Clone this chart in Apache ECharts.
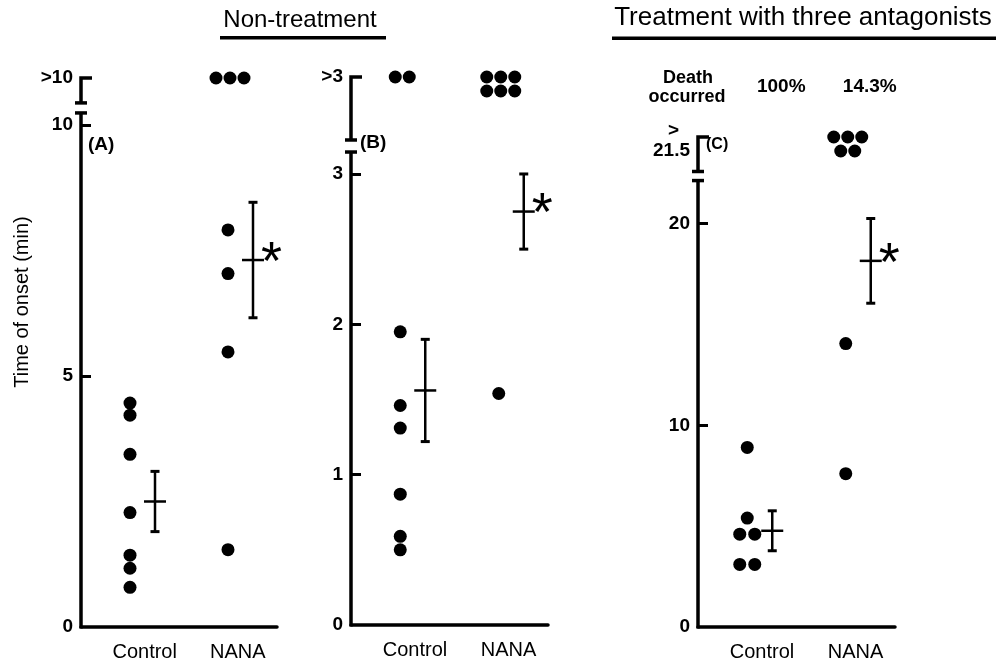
<!DOCTYPE html>
<html><head><meta charset="utf-8">
<script src="https://cdn.jsdelivr.net/npm/echarts@6/dist/echarts.min.js"></script>
<style>html,body{margin:0;padding:0;background:#fff}#c{width:999px;height:665px}</style>
</head><body><div id="c"></div>
<script>
// ---------------- data ----------------
const categories = ['Control', 'NANA'];
const yAxisTitle = 'Time of onset (min)';
const titleLeft = 'Non-treatment';
const titleRight = 'Treatment with three antagonists';
const deathLabel = ['Death', 'occurred'];
const deathRate = [100, 14.3];           // % death occurred (panel C)

// Panel A: Non-treatment, time of onset (min)
const aControl = [4.46, 4.22, 3.44, 2.28, 1.43, 1.17, 0.79];
const aNana = [7.91, 7.04, 5.48, 1.54];
const aOver = [0, 3];                    // animals with onset > 10 min
const aMean = [2.50, 7.31];
const aSem = [0.60, 1.15];
const aSig = ['', '*'];
const aTicks = [0, 5, 10];
const aTop = '>10';

// Panel B
const bControl = [1.95, 1.46, 1.31, 0.87, 0.59, 0.50];
const bNana = [1.54];
const bOver = [2, 6];                    // animals with onset > 3 min
const bMean = [1.56, 2.75];
const bSem = [0.34, 0.25];
const bSig = ['', '*'];
const bTicks = [0, 1, 2, 3];
const bTop = '>3';

// Panel C: Treatment with three antagonists
const cControl = [8.9, 5.4, 4.6, 4.6, 3.1, 3.1];
const cNana = [14.05, 7.6];
const cOver = [0, 5];                    // animals with onset > 21.5 min
const cMean = [4.77, 18.15];
const cSem = [0.99, 2.10];
const cSig = ['', '*'];
const cTicks = [0, 10, 20];
const cTop = '21.5';

// ---------------- layout ----------------
const FONT = 'Liberation Sans, Arial, sans-serif';
const panels = [
  {letter:'(A)', ctrl:aControl, nana:aNana, over:aOver, mean:aMean, sem:aSem, sig:aSig, ticks:aTicks, top:aTop,
   grid:{left:81, top:78, width:196, height:549}, max:10.936, brk:[10.24, 10.44]},
  {letter:'(B)', ctrl:bControl, nana:bNana, over:bOver, mean:bMean, sem:bSem, sig:bSig, ticks:bTicks, top:bTop,
   grid:{left:351, top:77, width:197, height:548}, max:3.645, brk:[3.146, 3.226]},
  {letter:'(C)', ctrl:cControl, nana:cNana, over:cOver, mean:cMean, sem:cSem, sig:cSig, ticks:cTicks, top:cTop, stackedTop:true,
   grid:{left:698, top:137, width:197, height:490}, max:24.29, brk:[22.13, 22.58]}
];

const grids = [], xAxes = [], yAxes = [], series = [];

function dotItems(values, catX) {
  const counts = {}, seen = {};
  values.forEach(v => counts[v] = (counts[v] || 0) + 1);
  return values.map(v => {
    const n = counts[v], k = seen[v] = (seen[v] === undefined ? 0 : seen[v] + 1);
    return {value:[catX, v], symbolOffset:[(k - (n - 1) / 2) * 15, 0]};
  });
}
function overItems(n, catX, yMax) {
  const out = [];
  for (let j = 0; j < n; j++) {
    const row = Math.floor(j / 3), col = j % 3, inRow = Math.min(3, n - row * 3);
    out.push({value:[catX, yMax], symbolOffset:[(col - (inRow - 1) / 2) * 14 + 2, row * 14]});
  }
  return out;
}

panels.forEach((p, i) => {
  grids.push(Object.assign({}, p.grid));
  xAxes.push({
    type:'value', gridIndex:i, min:0, max:2,
    splitLine:{show:false}, axisTick:{show:false},
    axisLine:{show:true, lineStyle:{color:'#000', width:3.5}},
    axisLabel:{customValues:[0.65, 1.6], formatter:v => v < 1 ? categories[0] : categories[1],
      color:'#000', fontSize:20, fontFamily:FONT, margin:15}
  });
  const labelVals = p.ticks.concat([p.max]);
  yAxes.push({
    type:'value', gridIndex:i, min:0, max:p.max,
    splitLine:{show:false}, axisLine:{show:false},
    axisTick:{show:true, inside:true, length:10, customValues:p.ticks.filter(v => v > 0),
      lineStyle:{color:'#000', width:3}},
    axisLabel:{customValues:labelVals, color:'#000', fontSize:19, fontWeight:'bold', fontFamily:FONT, margin:8,
      formatter:v => v === p.max ? (p.stackedTop ? '{g|>}\n{v|' + p.top + '}' : p.top) : String(v),
      rich:{g:{fontSize:19, fontWeight:'bold', fontFamily:FONT, lineHeight:28, padding:[0, 11, 0, 0], align:'right'},
            v:{fontSize:19, fontWeight:'bold', fontFamily:FONT, lineHeight:12, align:'right'}}}
  });
  // broken y-axis line
  series.push({
    type:'custom', xAxisIndex:i, yAxisIndex:i, clip:false, silent:true, data:[[0, 0]],
    renderItem:(params, api) => {
      const b = api.coord([0, 0]), lo = api.coord([0, p.brk[0]]), hi = api.coord([0, p.brk[1]]), t = api.coord([0, p.max]);
      const st = {stroke:'#000', lineWidth:3.5, fill:null};
      const x = b[0];
      return {type:'group', children:[
        {type:'line', shape:{x1:x, y1:b[1] + 1.5, x2:x, y2:lo[1]}, style:st},
        {type:'line', shape:{x1:x - 6, y1:lo[1], x2:x + 6, y2:lo[1]}, style:st},
        {type:'line', shape:{x1:x - 6, y1:hi[1], x2:x + 6, y2:hi[1]}, style:st},
        {type:'polyline', shape:{points:[[x, hi[1]], [x, t[1]], [x + 11, t[1]]]}, style:st}
      ]};
    }
  });
  // individual animals
  const dots = dotItems(p.ctrl, 0.5).concat(dotItems(p.nana, 1.5))
    .concat(overItems(p.over[0], 0.5, p.max)).concat(overItems(p.over[1], 1.5, p.max));
  series.push({
    type:'scatter', xAxisIndex:i, yAxisIndex:i, clip:false, symbol:'circle', symbolSize:13,
    itemStyle:{color:'#000', opacity:1}, data:dots, silent:true
  });
  // mean +- SEM
  series.push({
    type:'custom', xAxisIndex:i, yAxisIndex:i, clip:false, silent:true,
    data:p.mean.map((m, k) => [k + 0.5, m, p.sem[k]]),
    renderItem:(params, api) => {
      const x = api.value(0), m = api.value(1), s = api.value(2);
      const c = api.coord([x, m]), t = api.coord([x, m + s]), bt = api.coord([x, m - s]);
      const cx = c[0] + 25;
      const st = {stroke:'#000', lineWidth:2.5};
      const ch = [
        {type:'line', shape:{x1:cx, y1:t[1], x2:cx, y2:bt[1]}, style:st},
        {type:'line', shape:{x1:cx - 4.5, y1:t[1], x2:cx + 4.5, y2:t[1]}, style:{stroke:'#000', lineWidth:3}},
        {type:'line', shape:{x1:cx - 4.5, y1:bt[1], x2:cx + 4.5, y2:bt[1]}, style:{stroke:'#000', lineWidth:3}},
        {type:'line', shape:{x1:cx - 11, y1:c[1], x2:cx + 11, y2:c[1]}, style:st}
      ];
      const sg = p.sig[params.dataIndex];
      if (sg) ch.push({type:'text', style:{text:sg, x:cx + 8, y:c[1] + 4, font:'normal 54px ' + FONT, fill:'#000',
        textAlign:'left', textVerticalAlign:'middle'}});
      return {type:'group', children:ch};
    }
  });
});

const chart = echarts.init(document.getElementById('c'), null, {renderer:'canvas'});
chart.setOption({
  animation:false, backgroundColor:'#fff',
  grid:grids, xAxis:xAxes, yAxis:yAxes, series:series
});

// annotations positioned from the axes
const pxA = chart.convertToPixel({xAxisIndex:0, yAxisIndex:0}, [0, 0]);
const pxB = chart.convertToPixel({xAxisIndex:1, yAxisIndex:1}, [0, 0]);
const pxC = chart.convertToPixel({xAxisIndex:2, yAxisIndex:2}, [0, 0]);
const cCtrl = chart.convertToPixel({xAxisIndex:2, yAxisIndex:2}, [0.5, 0]);
const cNanaPx = chart.convertToPixel({xAxisIndex:2, yAxisIndex:2}, [1.5, 0]);
const txt = (text, x, y, size, weight, align, extra) => Object.assign({type:'text', silent:true,
  style:{text, x, y, fill:'#000', font:(weight || 'normal') + ' ' + size + 'px ' + FONT, textAlign:align || 'center', textVerticalAlign:'middle'}}, extra || {});
chart.setOption({graphic:[
  txt(titleLeft, 300, 20, 24),
  {type:'rect', silent:true, shape:{x:220, y:36, width:166, height:3.5}, style:{fill:'#000'}},
  txt(titleRight, 803, 18, 26),
  {type:'rect', silent:true, shape:{x:612, y:36.5, width:384, height:3.5}, style:{fill:'#000'}},
  txt(panels[0].letter, pxA[0] + 7, 145, 19, 'bold', 'left'),
  txt(panels[1].letter, pxB[0] + 9, 143, 19, 'bold', 'left'),
  txt(panels[2].letter, pxC[0] + 8, 145, 16, 'bold', 'left'),
  txt(deathLabel[0], pxC[0] - 10, 78, 18, 'bold'),
  txt(deathLabel[1], pxC[0] - 11, 97, 18, 'bold'),
  txt(deathRate[0] + '%', cCtrl[0] + 34, 87, 19, 'bold'),
  txt(deathRate[1] + '%', cNanaPx[0] + 24, 87, 19, 'bold'),
  {type:'text', silent:true, x:22, y:302, rotation:Math.PI / 2,
   style:{text:yAxisTitle, fill:'#000', font:'normal 20px ' + FONT, textAlign:'center', textVerticalAlign:'middle'}}
]});
</script>
</body></html>
